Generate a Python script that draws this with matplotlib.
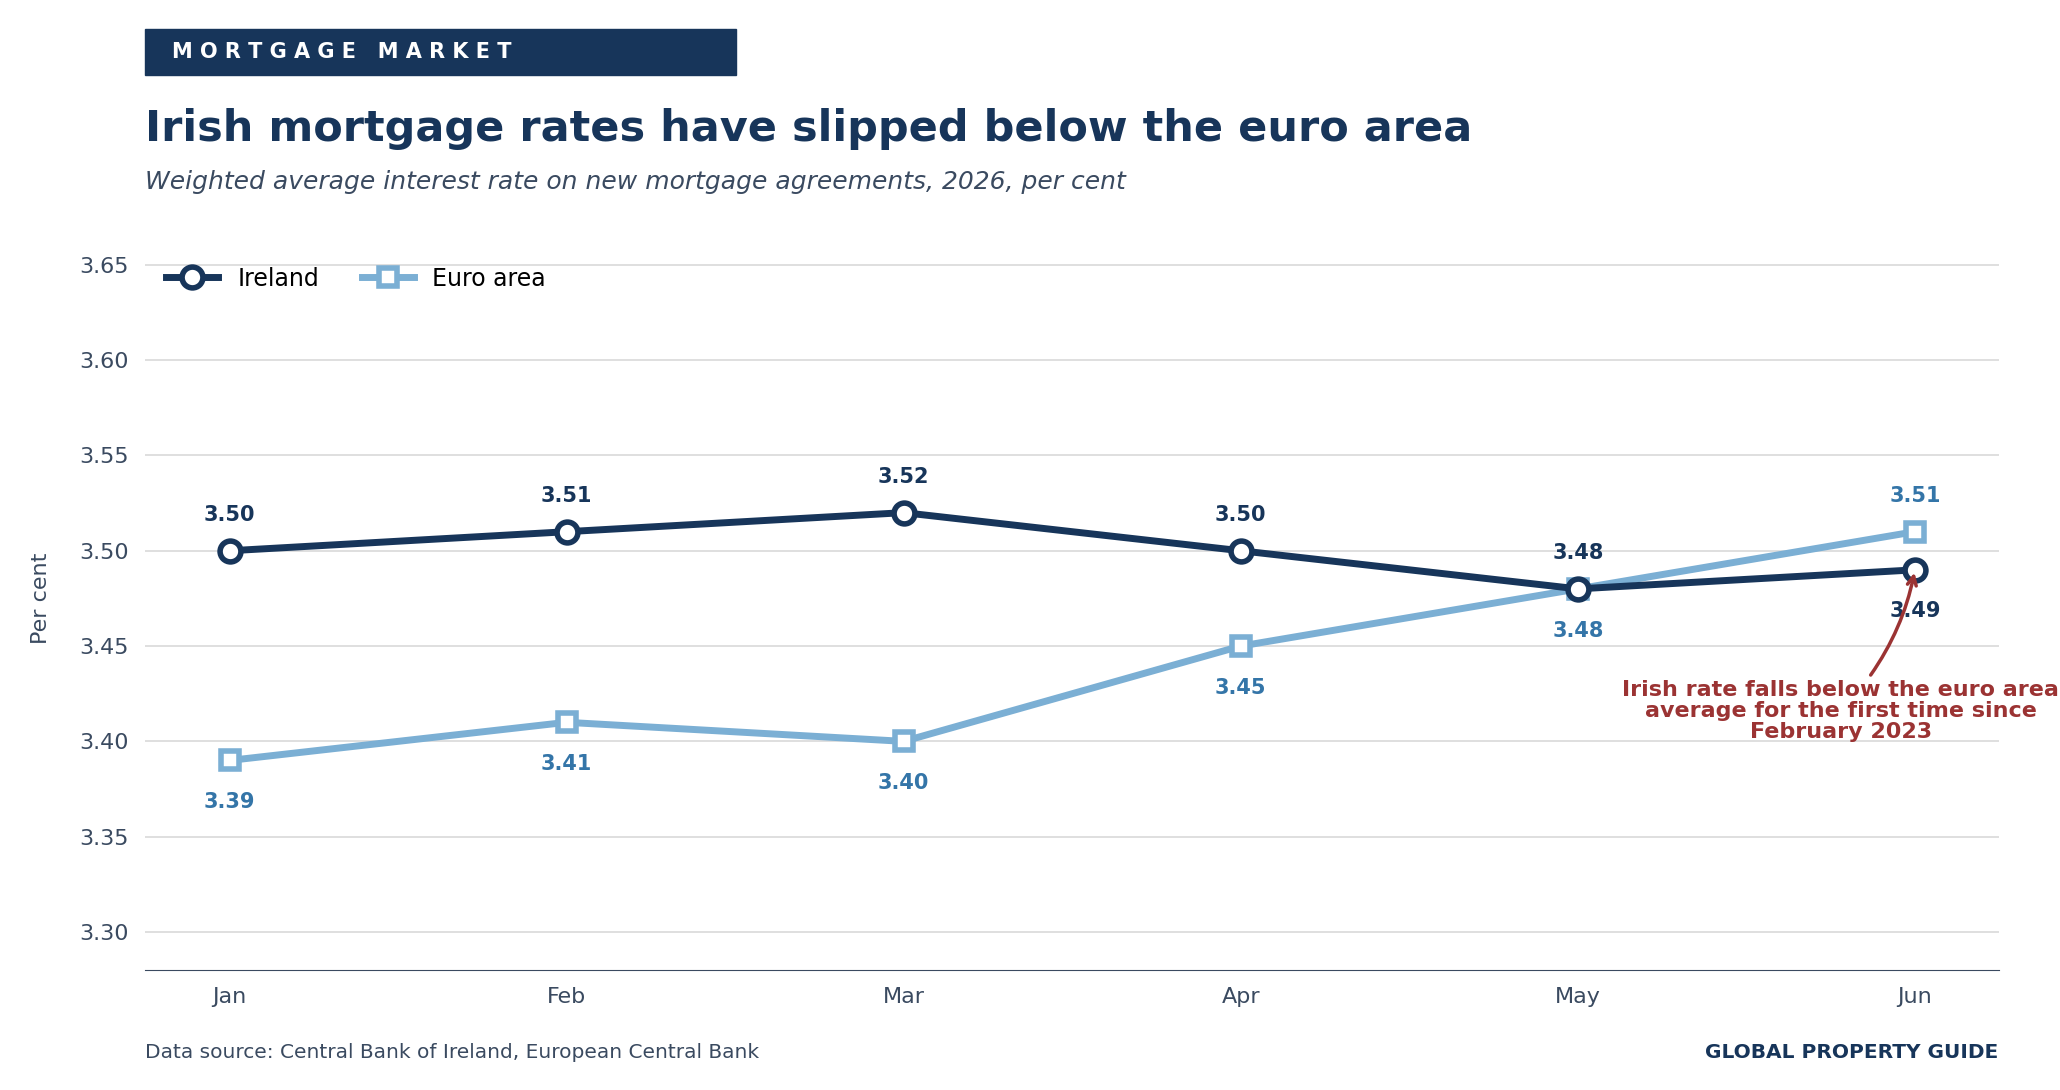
import matplotlib.pyplot as plt
import matplotlib.patches as mpatches

months = ["Jan", "Feb", "Mar", "Apr", "May", "Jun"]
ireland = [3.50, 3.51, 3.52, 3.50, 3.48, 3.49]
euro_area = [3.39, 3.41, 3.40, 3.45, 3.48, 3.51]
yticks = [3.30, 3.35, 3.40, 3.45, 3.50, 3.55, 3.60, 3.65]

navy = "#17355a"
light = "#7bafd4"
label_blue = "#3475a8"
red = "#9b3333"
grey = "#3a4a60"

fig = plt.figure(figsize=(20.6, 10.9), dpi=100)
ax = fig.add_axes([0.0705, 0.110, 0.9, 0.682])
x = list(range(len(months)))

ax.plot(x, ireland, color=navy, lw=5, marker="o", ms=15, mfc="white",
        mec=navy, mew=4, label="Ireland", zorder=3)
ax.plot(x, euro_area, color=light, lw=5, marker="s", ms=13, mfc="white",
        mec=light, mew=4, label="Euro area", zorder=2)

for i, (a, b) in enumerate(zip(ireland, euro_area)):
    ia = a >= b if i != 4 else True
    ax.annotate(f"{a:.2f}", (i, a), xytext=(0, 26 if ia else -30), textcoords="offset points",
                ha="center", va="center", fontsize=15, fontweight="bold", color=navy)
    ax.annotate(f"{b:.2f}", (i, b), xytext=(0, -30 if ia else 26), textcoords="offset points",
                ha="center", va="center", fontsize=15, fontweight="bold", color=label_blue)

ax.annotate("Irish rate falls below the euro area\naverage for the first time since\nFebruary 2023",
            xy=(5, ireland[5]), xytext=(4.78, 3.416), ha="center", va="center",
            fontsize=16, fontweight="bold", color=red, linespacing=1.05,
            arrowprops=dict(arrowstyle="->", color=red, lw=2.5,
                            connectionstyle="arc3,rad=0.15", shrinkA=2, shrinkB=2))

ax.set_xlim(-0.25, 5.25)
ax.set_ylim(3.28, 3.67)
ax.set_xticks(x)
ax.set_xticklabels(months)
ax.set_yticks(yticks)
ax.set_yticklabels([f"{v:.2f}" for v in yticks])
ax.tick_params(axis="both", length=0, labelsize=16, labelcolor=grey, pad=12)
ax.grid(axis="y", color="#d9d9d9", lw=1.2)
ax.set_axisbelow(True)
for s in ["top", "right", "left"]:
    ax.spines[s].set_visible(False)
ax.spines["bottom"].set_color(grey)
ax.set_ylabel("Per cent", fontsize=16, color=grey, labelpad=20)
ax.legend(loc="upper left", bbox_to_anchor=(0.0, 0.975), frameon=False, ncol=2,
          fontsize=17, handlelength=2.2, columnspacing=1.8)

fig.patches.append(mpatches.Rectangle((0.0705, 0.931), 0.287, 0.042, transform=fig.transFigure,
                                      color=navy))
fig.text(0.0835, 0.952, "M O R T G A G E   M A R K E T", color="white", fontsize=15,
         fontweight="bold", va="center")
fig.text(0.0705, 0.882, "Irish mortgage rates have slipped below the euro area",
         fontsize=31, fontweight="bold", color=navy, va="center")
fig.text(0.0705, 0.833, "Weighted average interest rate on new mortgage agreements, 2026, per cent",
         fontsize=18, style="italic", color=grey, va="center")
fig.text(0.0705, 0.034, "Data source: Central Bank of Ireland, European Central Bank",
         fontsize=14.5, color=grey, va="center")
fig.text(0.97, 0.034, "GLOBAL PROPERTY GUIDE", fontsize=14.5, fontweight="bold",
         color=navy, va="center", ha="right")

fig.savefig("out.png", dpi=100)
